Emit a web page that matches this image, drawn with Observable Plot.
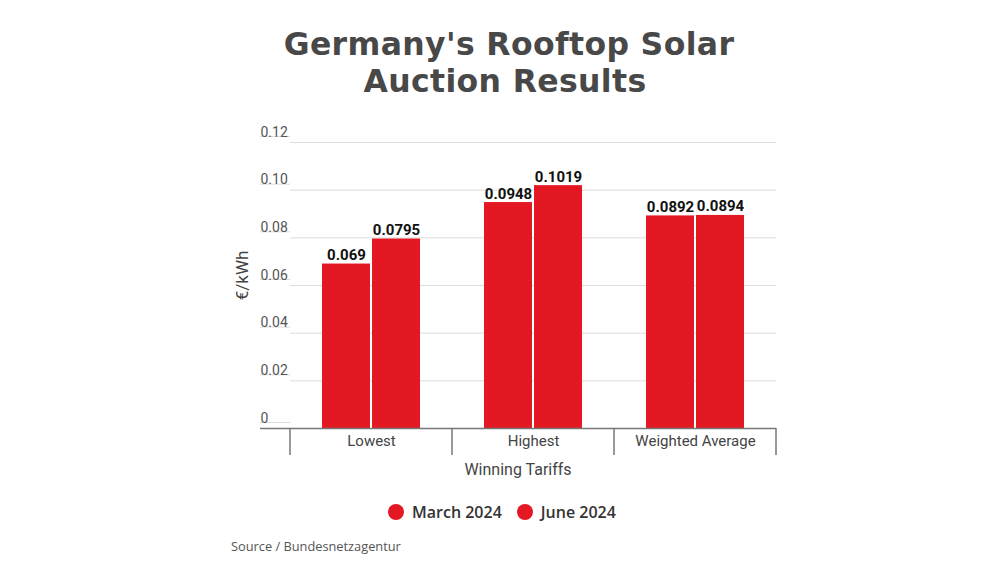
<!DOCTYPE html>
<html><head><meta charset="utf-8">
<script src="https://cdn.jsdelivr.net/npm/d3@7"></script>
<script src="https://cdn.jsdelivr.net/npm/@observablehq/plot@0.6"></script>
<style>
  html, body { margin: 0; padding: 0; background: #fff; }
  #wrap { position: relative; width: 1000px; height: 563px; overflow: hidden; }
  .tline { position: absolute; left: 0; width: 1000px; text-align: center;
    font-family: "DejaVu Sans", sans-serif; font-weight: bold; font-size: 31.5px; line-height: 37px;
    letter-spacing: 0.35px; color: #484848; }
  #t1 { top: 26px; left: 9px; }
  #t2 { top: 63px; left: 5px; }
  #chart { position: absolute; top: 110px; left: 0; }
  #legend { position: absolute; top: 502px; left: 388px; height: 20px; display: flex;
    align-items: center; font-family: "Open Sans", sans-serif; font-weight: 600;
    font-size: 16px; color: #333; white-space: nowrap; }
  #legend .item { display: flex; align-items: center; margin-right: 15px; }
  #legend .dot { width: 16px; height: 16px; border-radius: 50%; margin-right: 8px; }
  #source { position: absolute; top: 537px; left: 231px; font-family: "Open Sans", sans-serif;
    font-size: 12.8px; color: #555; }
</style>
</head><body>
<div id="wrap">
  <div class="tline" id="t1">Germany's Rooftop Solar</div>
  <div class="tline" id="t2">Auction Results</div>
  <div id="chart"></div>
  <div id="legend"></div>
  <div id="source">Source / Bundesnetzagentur</div>
</div>
<script>
const categories = ["Lowest", "Highest", "Weighted Average"];
const series = ["March 2024", "June 2024"];
const march = [0.069, 0.0948, 0.0892];
const june = [0.0795, 0.1019, 0.0894];
const yTicks = [0, 0.02, 0.04, 0.06, 0.08, 0.10, 0.12];
const yTickLabels = ["0", "0.02", "0.04", "0.06", "0.08", "0.10", "0.12"];
const colors = ["#e31823", "#e31823"];

const rows = categories.flatMap((c, i) => [
  {cat: c, series: series[0], value: march[i]},
  {cat: c, series: series[1], value: june[i]}
]);

const chart = Plot.plot({
  width: 1000, height: 375,
  marginTop: 32, marginBottom: 57, marginLeft: 290, marginRight: 224,
  style: {fontFamily: "Roboto", background: "transparent", overflow: "visible"},
  fx: {domain: categories, padding: 0, label: null},
  x: {domain: series, paddingInner: 0.04, paddingOuter: 0.61, axis: null},
  y: {domain: [0, 0.12], label: null},
  color: {domain: series, range: colors},
  marks: [
    Plot.gridY(yTicks, {stroke: "#dcdcdc", strokeOpacity: 1}),
    Plot.axisY(yTicks, {anchor: "left", tickSize: 30, tickPadding: 0, textAnchor: "start",
      lineAnchor: "bottom", dy: -6, stroke: "#dcdcdc", fill: "#555", fontSize: 14,
      tickFormat: d => yTickLabels[yTicks.indexOf(d)], label: null}),
    Plot.barY(rows, {fx: "cat", x: "series", y: "value", fill: "series"}),
    Plot.text(rows, {fx: "cat", x: "series", y: "value", text: d => String(d.value),
      lineAnchor: "bottom", dy: -4, fontWeight: "bold", fontSize: 15, fill: "#111"}),
    Plot.ruleY([0], {stroke: "#777", strokeWidth: 1.5}),
    Plot.axisY([0], {anchor: "left", tickSize: 30, stroke: "#777", strokeWidth: 1.5,
      tickFormat: () => "", label: null}),
    Plot.axisFx({anchor: "bottom", tickSize: 0, tickPadding: 7, fontSize: 15, color: "#444",
      lineAnchor: "top", label: null})
  ]
});
document.getElementById("chart").appendChild(chart);

// group separators and axis titles using the chart's scales
const fxs = chart.scale("fx");
const ys = chart.scale("y");
const y0 = ys.apply(0);
const bw = fxs.bandwidth;
const edges = categories.map(c => fxs.apply(c)).concat([fxs.apply(categories[categories.length - 1]) + bw]);
const svg = d3.select(chart.tagName.toLowerCase() === "svg" ? chart : chart.querySelector("svg"));
svg.append("g").selectAll("line").data(edges).join("line")
  .attr("x1", d => d).attr("x2", d => d)
  .attr("y1", y0).attr("y2", y0 + 27)
  .attr("stroke", "#777").attr("stroke-width", 1.5);
const left = edges[0] - 30, right = edges[edges.length - 1];
svg.append("text").attr("x", (left + right) / 2).attr("y", y0 + 43)
  .attr("text-anchor", "middle").attr("dominant-baseline", "middle")
  .attr("font-family", "Roboto").attr("font-size", 16).attr("fill", "#444")
  .text("Winning Tariffs");
svg.append("text")
  .attr("transform", `translate(${left - 16},${ys.apply(0.064)}) rotate(-90)`)
  .attr("text-anchor", "middle").attr("dominant-baseline", "middle")
  .attr("font-family", "Roboto").attr("font-size", 17).attr("fill", "#444")
  .text("€/kWh");

// legend
const legend = d3.select("#legend");
series.forEach((s, i) => {
  const item = legend.append("div").attr("class", "item");
  item.append("div").attr("class", "dot").style("background", colors[i]);
  item.append("span").text(s);
});
</script>
</body></html>
